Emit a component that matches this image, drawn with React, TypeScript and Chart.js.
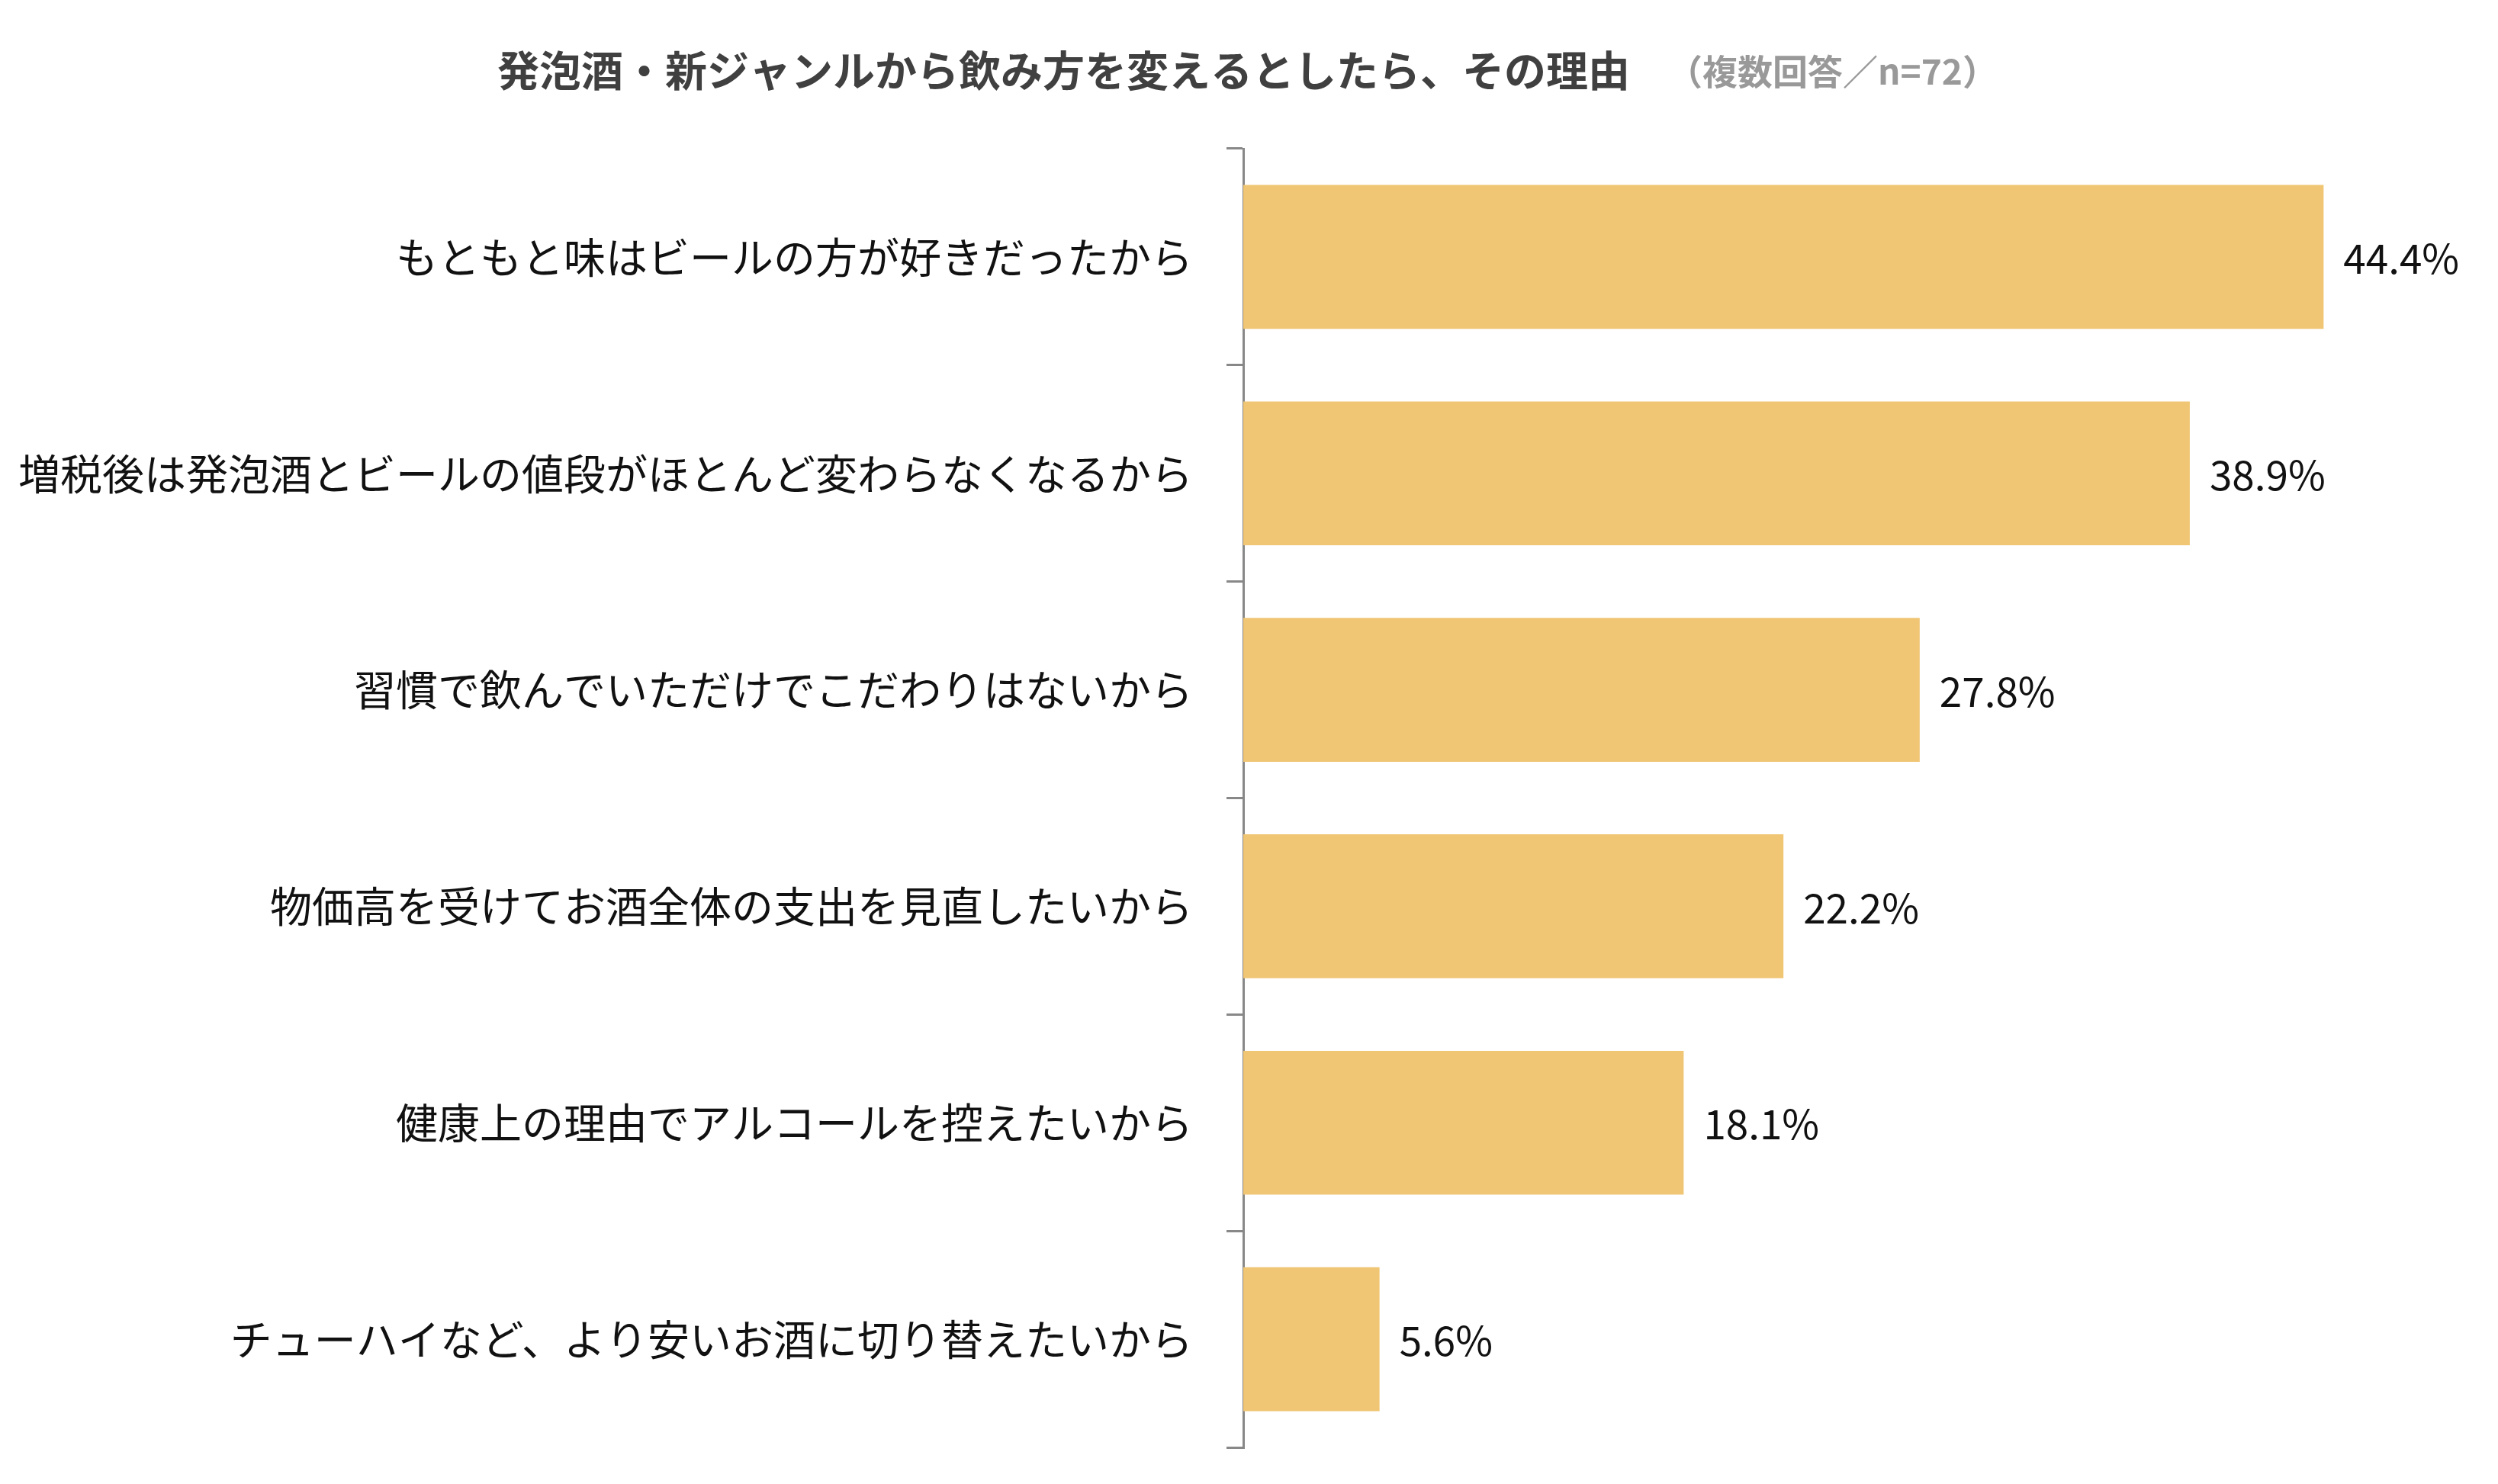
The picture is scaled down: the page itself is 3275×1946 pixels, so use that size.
import React, { useEffect, useRef } from "react";
import Chart from "chart.js/auto";

const FONT = '"Noto Sans CJK JP", "Noto Sans", sans-serif';

const reasons = [
  "もともと味はビールの方が好きだったから",
  "増税後は発泡酒とビールの値段がほとんど変わらなくなるから",
  "習慣で飲んでいただけでこだわりはないから",
  "物価高を受けてお酒全体の支出を見直したいから",
  "健康上の理由でアルコールを控えたいから",
  "チューハイなど、より安いお酒に切り替えたいから",
];
const shares = [44.4, 38.9, 27.8, 22.2, 18.1, 5.6];
const titleText = "発泡酒・新ジャンルから飲み方を変えるとしたら、その理由";
const noteText = "（複数回答／n=72）";

const titlePlugin = {
  id: "titleLine",
  afterDraw: (chart: any) => {
    const ctx = chart.ctx;
    ctx.save();
    ctx.textBaseline = "middle";
    ctx.textAlign = "left";
    ctx.font = `bold 55px ${FONT}`;
    ctx.fillStyle = "#404040";
    ctx.fillText(titleText, 652, 92);
    ctx.font = `bold 46px ${FONT}`;
    ctx.fillStyle = "#999999";
    ctx.fillText(noteText, 2186, 94);
    ctx.restore();
  },
};

const valuePlugin = {
  id: "valueLabels",
  afterDatasetsDraw: (chart: any) => {
    const ctx = chart.ctx;
    const meta = chart.getDatasetMeta(0);
    ctx.save();
    ctx.font = `53px ${FONT}`;
    ctx.fillStyle = "#111111";
    ctx.textBaseline = "middle";
    ctx.textAlign = "left";
    meta.data.forEach((bar: any, i: number) => {
      ctx.fillText(shares[i].toFixed(1) + "%", bar.x + 26, bar.y + 2);
    });
    ctx.restore();
  },
};

const ReasonChart = () => {
  const chartRef: any = useRef(null);
  const chartInstance: any = useRef(null);

  useEffect(() => {
    document.body.style.margin = "0";
    if (chartRef.current) {
      const ctx = chartRef.current.getContext("2d");
      chartInstance.current = new Chart(ctx, {
        type: "bar",
        data: {
          labels: reasons,
          datasets: [
            {
              data: shares,
              backgroundColor: "#F0C675",
              categoryPercentage: 1,
              barPercentage: 0.665,
            },
          ],
        },
        options: {
          indexAxis: "y",
          animation: false,
          responsive: true,
          maintainAspectRatio: false,
          layout: { padding: { top: 195, bottom: 48, right: 50, left: 0 } },
          plugins: {
            legend: { display: false },
            tooltip: { enabled: false },
          },
          scales: {
            x: { display: false, min: 0, max: 50 },
            y: {
              afterFit: (scale: any) => {
                scale.width = 1630;
                scale.paddingTop = 0;
                scale.paddingBottom = 0;
              },
              grid: {
                drawOnChartArea: false,
                drawTicks: true,
                tickLength: 22,
                color: "#888888",
                lineWidth: 3,
                offset: true,
              },
              border: { display: true, color: "#888888", width: 3 },
              ticks: {
                padding: 44,
                color: "#111111",
                font: { size: 55, family: FONT },
              },
            },
          },
        },
        plugins: [titlePlugin, valuePlugin],
      } as any);
    }

    return () => {
      if (chartInstance.current) {
        chartInstance.current.destroy();
      }
    };
  }, []);

  return (
    <div style={{ position: "relative", width: "3275px", height: "1946px" }}>
      <canvas ref={chartRef}></canvas>
    </div>
  );
};

export default function App() {
  return <ReasonChart />;
}
